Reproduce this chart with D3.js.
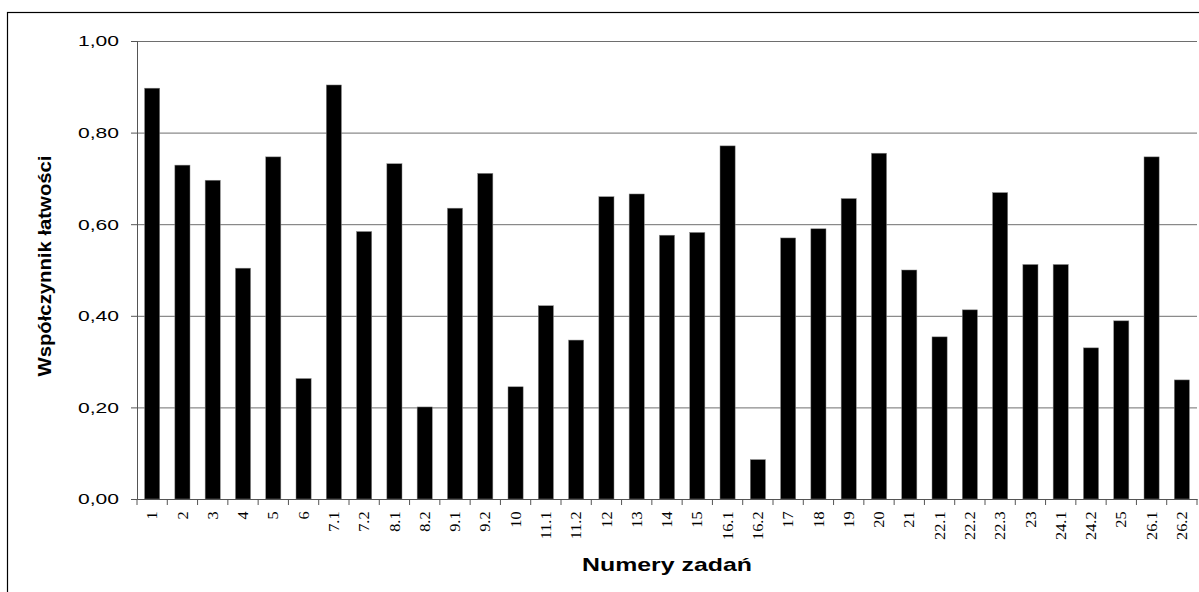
<!DOCTYPE html>
<html>
<head>
<meta charset="utf-8">
<script src="https://cdn.jsdelivr.net/npm/d3@7"></script>
<style>
  body { margin: 0; background: #fff; }
</style>
</head>
<body>
<script>
const width = 1199;
const height = 592;

const tasks = ["1", "2", "3", "4", "5", "6", "7.1", "7.2", "8.1", "8.2", "9.1", "9.2",
  "10", "11.1", "11.2", "12", "13", "14", "15", "16.1", "16.2", "17", "18", "19", "20",
  "21", "22.1", "22.2", "22.3", "23", "24.1", "24.2", "25", "26.1", "26.2"];
const easiness = [0.897, 0.729, 0.696, 0.504, 0.747, 0.263, 0.904, 0.584, 0.732, 0.201, 0.635, 0.711,
  0.245, 0.422, 0.347, 0.66, 0.666, 0.576, 0.582, 0.771, 0.086, 0.57, 0.59, 0.656, 0.755,
  0.5, 0.354, 0.413, 0.669, 0.512, 0.512, 0.33, 0.389, 0.747, 0.26];
const yTicks = [0, 0.2, 0.4, 0.6, 0.8, 1];

const plotLeft = 137, plotRight = 1197, plotTop = 41, plotBottom = 499;

const svg = d3
  .select("body")
  .append("svg")
  .attr("width", width)
  .attr("height", height);

// outer frame
svg.append("rect")
  .attr("x", 7.5)
  .attr("y", 12.5)
  .attr("width", 1220)
  .attr("height", 620)
  .attr("fill", "none")
  .attr("stroke", "#000")
  .attr("stroke-width", 1.2);

const x = d3.scaleBand()
  .domain(tasks)
  .range([plotLeft, plotRight])
  .paddingInner(0.5)
  .paddingOuter(0.25);

const y = d3.scaleLinear()
  .domain([0, 1])
  .range([plotBottom, plotTop]);

// gridlines
svg.append("g")
  .attr("transform", `translate(${plotLeft},0)`)
  .call(d3.axisLeft(y).tickValues(yTicks.slice(1)).tickSize(-(plotRight - plotLeft)).tickFormat(""))
  .call((g) => g.select(".domain").remove())
  .call((g) => g.selectAll("line").attr("stroke", "#6e6e6e"));

// bars
svg.append("g")
  .selectAll("rect")
  .data(tasks)
  .join("rect")
  .attr("x", (d) => x(d))
  .attr("y", (d, i) => y(easiness[i]))
  .attr("width", x.bandwidth())
  .attr("height", (d, i) => y(0) - y(easiness[i]))
  .attr("fill", "#000")
  .attr("stroke", "#888")
  .attr("stroke-width", 0.5);

// y axis (labels are wide in the original, so stretch them)
svg.append("g")
  .attr("transform", `translate(${plotLeft},0)`)
  .call(d3.axisLeft(y)
    .tickValues(yTicks)
    .tickSize(6)
    .tickPadding(12)
    .tickFormat((d) => d3.format(".2f")(d).replace(".", ",")))
  .call((g) => g.select(".domain").attr("stroke", "#555"))
  .call((g) => g.selectAll("line").attr("stroke", "#555"))
  .call((g) => g.selectAll("text")
    .attr("font-family", "Liberation Sans, Arial, sans-serif")
    .attr("font-size", 15)
    .attr("textLength", 41)
    .attr("lengthAdjust", "spacingAndGlyphs")
    .attr("fill", "#000"));

// x axis
const xAxis = svg.append("g")
  .attr("transform", `translate(0,${plotBottom})`)
  .call(d3.axisBottom(x).tickSize(0).tickSizeOuter(0).tickPadding(0))
  .call((g) => g.select(".domain").attr("stroke", "#555"));

xAxis.selectAll("text")
  .attr("font-family", "Liberation Serif, Times New Roman, serif")
  .attr("font-size", 14.5)
  .attr("fill", "#000")
  .attr("text-anchor", "end")
  .attr("dy", "0.35em")
  .attr("transform", "translate(0,12.5) rotate(-90) scale(1.12,1)");

// boundary tick marks between categories
const gap = (x.step() - x.bandwidth()) / 2;
const bounds = tasks.map((d) => x(d) - gap).concat([plotRight]);
xAxis.selectAll(".bound")
  .data(bounds)
  .join("line")
  .attr("class", "bound")
  .attr("x1", (d) => d)
  .attr("x2", (d) => d)
  .attr("y1", 0)
  .attr("y2", 6)
  .attr("stroke", "#555");

// axis titles
svg.append("text")
  .attr("x", 667)
  .attr("y", 571)
  .attr("text-anchor", "middle")
  .attr("font-family", "Liberation Sans, Arial, sans-serif")
  .attr("font-weight", "bold")
  .attr("font-size", 18.5)
  .attr("textLength", 170)
  .attr("lengthAdjust", "spacingAndGlyphs")
  .text("Numery zadań");

svg.append("text")
  .attr("transform", "translate(51,266) rotate(-90)")
  .attr("text-anchor", "middle")
  .attr("font-family", "Liberation Sans, Arial, sans-serif")
  .attr("font-weight", "bold")
  .attr("font-size", 17.5)
  .attr("textLength", 221)
  .attr("lengthAdjust", "spacingAndGlyphs")
  .text("Współczynnik łatwości");
</script>
</body>
</html>
